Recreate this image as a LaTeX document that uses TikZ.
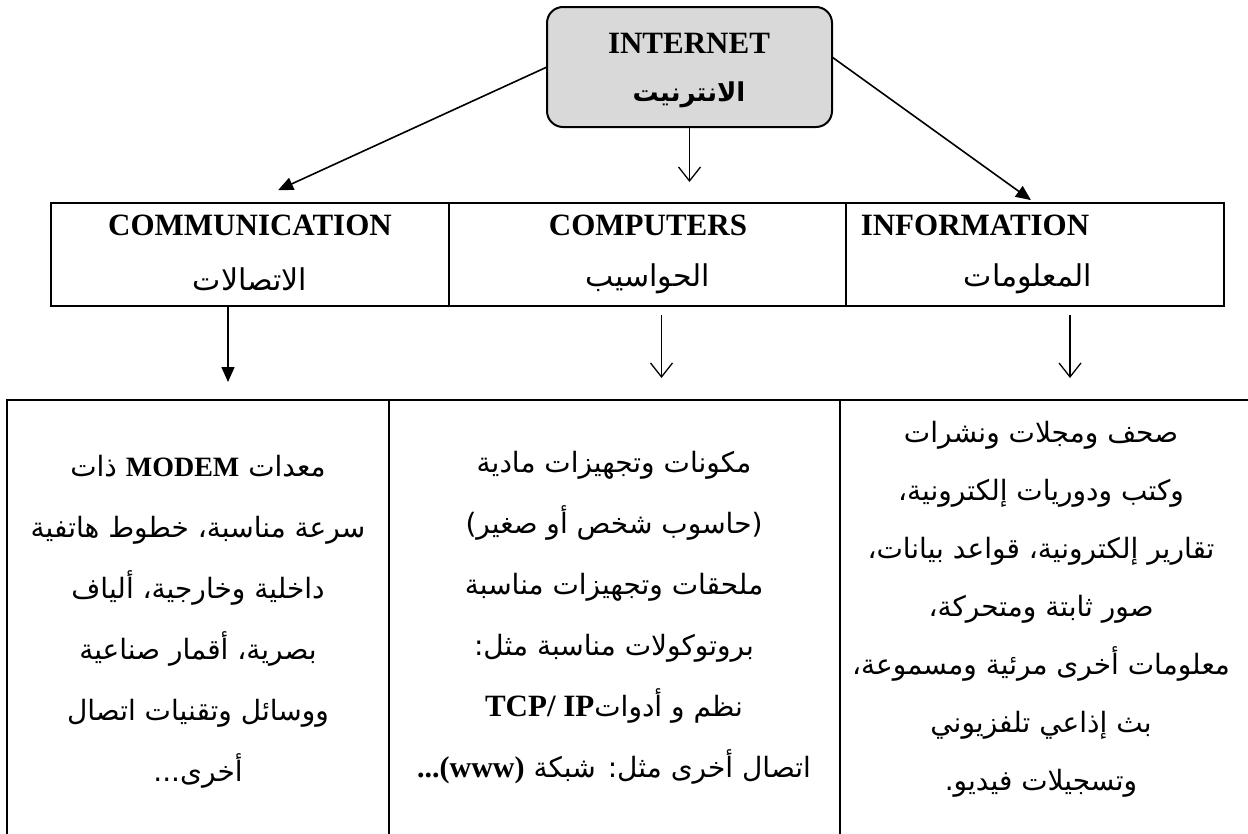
\documentclass[tikz,border=0pt]{standalone}
\usepackage{fontspec}
\setmainfont{Liberation Serif}
\newfontfamily\arabicfont[Script=Arabic]{DejaVu Sans}
\TeXXeTstate=1
\usetikzlibrary{arrows.meta,calc}
\newcommand\arl[1]{{\arabicfont\beginR #1\endR}}
\newcommand\lat[1]{{\normalfont\bfseries #1}}

\begin{document}
\begin{tikzpicture}[x=1pt,y=-1pt,
  hub/.style={draw, line width=2pt, rounded corners=16pt, fill=black!15, minimum width=285pt, minimum height=120pt, outer sep=0pt},
  cell/.style={draw, line width=2.6pt, anchor=north west, outer sep=0pt},
  head/.style={font=\fontsize{31}{36}\selectfont\bfseries},
  sub/.style={font=\fontsize{30}{36}\selectfont},
  body/.style={align=center, font=\fontsize{28}{61}\selectfont},
  tri/.style={-{Triangle[length=15pt,width=13pt]}, line width=1.6pt},
  barb/.style={-{Straight Barb[length=14pt,width=22pt]}, line width=1.3pt},
]
\useasboundingbox (0,0) rectangle (1248,833);
\clip (0,0) rectangle (1248,833);
% top box
\node[hub] (internet) at (689.5,67) {};
\node[head] (neten) at (689,43) {INTERNET};
\node[font=\fontsize{26}{30}\selectfont] (netar) at (689,95) {\arl{\bfseries الانترنيت}};
% middle row
\node[cell, minimum width=398pt, minimum height=103pt] (comm) at (51,203) {};
\node[cell, minimum width=397pt, minimum height=103pt] (comp) at (449,203) {};
\node[cell, minimum width=378pt, minimum height=103pt] (info) at (846,203) {};
\node[head] (commen) at (250,225) {COMMUNICATION};
\node[sub] (commar) at (250,279) {\arl{الاتصالات}};
\node[head] (compen) at (648,225) {COMPUTERS};
\node[sub] (compar) at (648,279) {\arl{الحواسيب}};
\node[head] (infoen) at (975,225) {INFORMATION};
\node[sub] (infoar) at (1028,279) {\arl{المعلومات}};
% bottom row, cut off at the page edge
\node[cell, minimum width=382pt, minimum height=500pt] (modem) at (7,400) {};
\node[cell, minimum width=451pt, minimum height=500pt] (hw) at (389,400) {};
\node[cell, minimum width=420pt, minimum height=500pt] (media) at (840,400) {};
\node[body] (modemtxt) at (198,622) {\arl{معدات \lat{\fontsize{28}{30}\selectfont MODEM} ذات}\\
  \arl{سرعة مناسبة، خطوط هاتفية}\\
  \arl{داخلية وخارجية، ألياف}\\
  \arl{بصرية، أقمار صناعية}\\
  \arl{ووسائل وتقنيات اتصال}\\
  \arl{أخرى...}};
\node[body] (hwtxt) at (614,618) {\arl{مكونات وتجهيزات مادية}\\
  \arl{(حاسوب شخص أو صغير)}\\
  \arl{ملحقات وتجهيزات مناسبة}\\
  \arl{بروتوكولات مناسبة مثل:}\\
  \arl{نظم و أدوات\beginL\lat{\fontsize{31}{36}\selectfont TCP/ IP}\endL}\\
  \arl{اتصال أخرى مثل: شبكة \beginL\lat{\fontsize{30}{36}\selectfont ...(www)}\endL}};
\node[body, font=\fontsize{28}{58}\selectfont] (mediatxt) at (1041,609) {\arl{صحف ومجلات ونشرات}\\
  \arl{وكتب ودوريات إلكترونية،}\\
  \arl{تقارير إلكترونية، قواعد بيانات،}\\
  \arl{صور ثابتة ومتحركة،}\\
  \arl{معلومات أخرى مرئية ومسموعة،}\\
  \arl{بث إذاعي تلفزيوني}\\
  \arl{وتسجيلات فيديو.}};
% arrows from the top box
\draw[tri, shorten >=31pt] (internet.west) -- (comm.north);
\draw[barb] (internet.south) -- ($(internet.south)+(0,55)$);
\draw[tri, shorten >=5pt] ([yshift=10pt]internet.east) -- (info.north);
% arrows down to the bottom row
\draw[tri] ($(comm.south)+(-22,0)$) -- ($(comm.south)+(-22,76)$);
\draw[barb] ($(comp.south)+(14,9)$) -- ($(comp.south)+(14,72)$);
\draw[barb] ($(info.south)+(35,9)$) -- ($(info.south)+(35,72)$);
\end{tikzpicture}
\end{document}
